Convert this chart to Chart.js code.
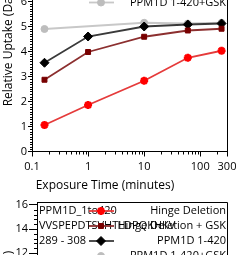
<!DOCTYPE html>
<html>
<head>
<meta charset="utf-8">
<script src="https://cdn.jsdelivr.net/npm/chart.js@4.4.1/dist/chart.umd.min.js"></script>
<style>
  html, body { margin: 0; padding: 0; background: #fff; }
  body { width: 245px; height: 255px; overflow: hidden; position: relative; }
  canvas { position: absolute; left: 0; }
  #uptake { top: -70px; }
  #nextPanel { top: 190px; }
</style>
</head>
<body>
<canvas id="uptake" width="245" height="270"></canvas>
<canvas id="nextPanel" width="245" height="240"></canvas>
<script>
// exposure times (minutes) and relative uptake (Da) per construct
const times = [0.167, 1, 10, 60, 240];
const seriesNames = ['Hinge Deletion', 'Hinge Deletion + GSK', 'PPM1D 1-420', 'PPM1D 1-420+GSK'];
const hingeDeletion = [1.06, 1.86, 2.83, 3.75, 4.03];
const hingeDeletionGsk = [2.87, 3.98, 4.59, 4.84, 4.91];
const ppm1d = [3.55, 4.6, 5.0, 5.08, 5.12];
const ppm1dGsk = [4.9, null, 5.15, 5.12, 5.15];
const xTickValues = [0.1, 1, 10, 100, 300];
const nextPeptide = ['PPM1D_1to420', 'VVSPEPDTSVHTLDPQKHKV', '289 - 308'];

const fontFamily = "'Open Sans', sans-serif";

// minor log ticks between the labelled decades
const xMinorValues = [];
[0.1, 1, 10, 100].forEach(d => {
  for (let m = 2; m <= 9; m++) {
    if (d * m < 300) xMinorValues.push(+(d * m).toPrecision(3));
  }
});

const styles = [
  {borderColor: '#e53b3b', pointStyle: 'star', pointRadius: 4, pointBorderWidth: 2.5, pointBorderColor: '#ff0000', pointBackgroundColor: '#ff0000'},
  {borderColor: '#8c2f2f', pointStyle: 'rect', pointRadius: 3.5, pointBorderWidth: 1, pointBorderColor: '#780000', pointBackgroundColor: '#780000'},
  {borderColor: '#3a3a3a', pointStyle: 'rectRot', pointRadius: 4.5, pointBorderWidth: 1, pointBorderColor: '#000', pointBackgroundColor: '#000'},
  {borderColor: '#c8c8c8', pointStyle: 'circle', pointRadius: 3.5, pointBorderWidth: 1, pointBorderColor: '#bdbdbd', pointBackgroundColor: '#bdbdbd'},
];

function makeDatasets(seriesList) {
  return seriesNames.map((name, i) => Object.assign({
    label: name,
    data: seriesList ? times.map((t, k) => ({x: t, y: seriesList[i][k]})) : [],
    borderWidth: 1.8,
    spanGaps: true,
  }, styles[i]));
}

// right and top edge of the plot frame
const frame = {
  id: 'frame',
  afterDraw(chart) {
    const {ctx, chartArea: a} = chart;
    const r = Math.round(a.right) + 0.5;
    const t = Math.round(a.top) + 0.5;
    ctx.save();
    ctx.strokeStyle = '#000';
    ctx.lineWidth = 1;
    ctx.beginPath();
    ctx.moveTo(r, a.bottom);
    ctx.lineTo(r, t);
    ctx.lineTo(a.left, t);
    ctx.stroke();
    ctx.restore();
  },
};

const minorTicks = {
  id: 'minorTicks',
  afterDraw(chart, args, opts) {
    const ctx = chart.ctx;
    const y = chart.scales.y;
    ctx.save();
    ctx.strokeStyle = '#000';
    ctx.lineWidth = 1;
    ctx.beginPath();
    const first = Math.ceil(y.min / opts.yStep - 1e-9);
    const last = Math.floor(y.max / opts.yStep + 1e-9);
    for (let k = first; k <= last; k++) {
      const v = k * opts.yStep;
      if (Math.abs(v / opts.yMajor - Math.round(v / opts.yMajor)) < 1e-6) continue;
      const py = Math.round(y.getPixelForValue(v)) + 0.5;
      ctx.moveTo(y.right - opts.yLen, py);
      ctx.lineTo(y.right, py);
    }
    if (opts.xValues && chart.scales.x.options.display) {
      const x = chart.scales.x;
      opts.xValues.forEach(v => {
        const px = Math.round(x.getPixelForValue(v)) + 0.5;
        ctx.moveTo(px, x.top);
        ctx.lineTo(px, x.top + opts.xLen);
      });
    }
    ctx.stroke();
    ctx.restore();
  },
};

// key drawn inside the plot: peptide info left, sample line middle, name right
const seriesKey = {
  id: 'seriesKey',
  afterDatasetsDraw(chart, args, opts) {
    const {ctx, chartArea: a} = chart;
    const rowY = i => a.top + opts.first + i * opts.gap;
    ctx.save();
    ctx.font = opts.size + 'px ' + fontFamily;
    ctx.fillStyle = '#000';
    ctx.textBaseline = 'middle';
    ctx.textAlign = 'left';
    (opts.info || []).forEach((t, i) => ctx.fillText(t, a.left + 2, rowY(i)));
    ctx.textAlign = 'right';
    chart.data.datasets.forEach((ds, i) => ctx.fillText(ds.label, a.right - 1, rowY(i)));
    chart.data.datasets.forEach((ds, i) => {
      const y = rowY(i);
      ctx.strokeStyle = ds.borderColor;
      ctx.lineWidth = ds.borderWidth;
      ctx.beginPath();
      ctx.moveTo(opts.x0, y);
      ctx.lineTo(opts.x1, y);
      ctx.stroke();
      ctx.fillStyle = ds.pointBackgroundColor;
      ctx.strokeStyle = ds.pointBorderColor;
      ctx.lineWidth = ds.pointBorderWidth;
      Chart.helpers.drawPoint(ctx, {
        pointStyle: ds.pointStyle, radius: ds.pointRadius, rotation: 0, borderWidth: ds.pointBorderWidth,
      }, opts.xm, y);
    });
    ctx.restore();
  },
};

const xTitle = {
  id: 'xTitle',
  afterDraw(chart, args, opts) {
    const {ctx, chartArea: a} = chart;
    ctx.save();
    ctx.font = opts.size + 'px ' + fontFamily;
    ctx.fillStyle = '#000';
    ctx.textAlign = 'center';
    ctx.textBaseline = 'middle';
    ctx.fillText(opts.text, a.left + opts.dx, a.bottom + opts.dy);
    ctx.restore();
  },
};

function yAxis(min, max, step, width, tickLen, titlePad) {
  return {
    type: 'linear',
    min: min,
    max: max,
    afterFit: s => { s.width = width; },
    ticks: {stepSize: step, includeBounds: false, padding: 1, color: '#000', font: {family: fontFamily, size: 11}},
    grid: {drawOnChartArea: false, tickLength: tickLen, tickColor: '#000'},
    border: {color: '#000'},
    title: {display: true, text: 'Relative Uptake (Da)', color: '#000', font: {family: fontFamily, size: 12}, padding: {top: titlePad}},
  };
}

new Chart(document.getElementById('uptake'), {
  type: 'line',
  data: {datasets: makeDatasets([hingeDeletion, hingeDeletionGsk, ppm1d, ppm1dGsk])},
  options: {
    responsive: false,
    animation: false,
    layout: {padding: {left: 0, right: 18, top: 18.5, bottom: 0}},
    scales: {
      x: {
        type: 'logarithmic',
        min: 0.1,
        max: 300,
        afterBuildTicks: s => { s.ticks = xTickValues.map(v => ({value: v})); },
        afterFit: s => { s.height = 48.5; },
        ticks: {autoSkip: false, maxRotation: 0, padding: 4, color: '#000', font: {family: fontFamily, size: 11},
          callback: v => String(v)},
        grid: {drawOnChartArea: false, tickLength: 5, tickColor: '#000'},
        border: {color: '#000'},
      },
      y: yAxis(0, 8.12, 1, 32, 4, 1.5),
    },
    plugins: {
      legend: {display: false},
      tooltip: {enabled: false},
      minorTicks: {yStep: 0.1, yMajor: 1, yLen: 2, xValues: xMinorValues, xLen: 3},
      seriesKey: {first: 9, gap: 15, size: 11, x0: 89, x1: 114, xm: 101},
      xTitle: {text: 'Exposure Time (minutes)', size: 12, dx: 73, dy: 34.5},
    },
  },
  plugins: [frame, minorTicks, seriesKey, xTitle],
});

new Chart(document.getElementById('nextPanel'), {
  type: 'line',
  data: {datasets: makeDatasets(null)},
  options: {
    responsive: false,
    animation: false,
    layout: {padding: {left: 0, right: 18, top: 12, bottom: 18}},
    scales: {
      x: {type: 'logarithmic', min: 0.1, max: 300, display: false},
      y: yAxis(-1.25, 16.25, 2, 37, 8, 1.5),
    },
    plugins: {
      legend: {display: false},
      tooltip: {enabled: false},
      minorTicks: {yStep: 0.4, yMajor: 2, yLen: 3},
      seriesKey: {first: 9, gap: 15, size: 11, x0: 89, x1: 114, xm: 101, info: nextPeptide},
    },
  },
  plugins: [frame, minorTicks, seriesKey],
});
</script>
</body>
</html>
